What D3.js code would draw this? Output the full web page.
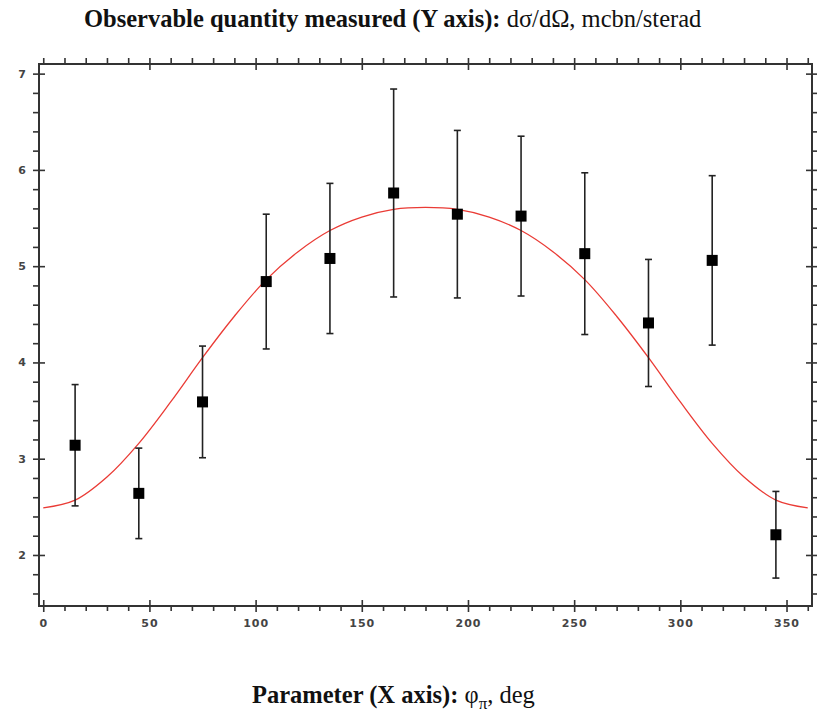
<!DOCTYPE html>
<html>
<head>
<meta charset="utf-8">
<script src="https://cdn.jsdelivr.net/npm/d3@7"></script>
<style>
  body { margin: 0; background: #fff; }
  .tick text { font-family: "DejaVu Sans", sans-serif; font-size: 11px; font-weight: bold; fill: #444; letter-spacing: 1px; }
  .tick line { stroke: #333; stroke-width: 1.6; }
</style>
</head>
<body>
<div id="chart"></div>
<script>
// measured points (phi in deg, dsigma/dOmega in mcbn/sterad)
var phiValues = [15, 45, 75, 105, 135, 165, 195, 225, 255, 285, 315, 345];
var sigmaValues = [3.14, 2.64, 3.59, 4.84, 5.08, 5.76, 5.54, 5.52, 5.13, 4.41, 5.06, 2.21];
var sigmaErrors = [0.63, 0.47, 0.58, 0.70, 0.78, 1.08, 0.87, 0.83, 0.84, 0.66, 0.88, 0.45];

// fitted curve, every 15 deg
var fitPhi = [0, 15, 30, 45, 60, 75, 90, 105, 120, 135, 150, 165, 180,
              195, 210, 225, 240, 255, 270, 285, 300, 315, 330, 345, 360];
var fitValues = [2.49, 2.57, 2.81, 3.16, 3.59, 4.05, 4.48, 4.86, 5.15, 5.37, 5.51, 5.59, 5.61,
                 5.59, 5.51, 5.37, 5.15, 4.86, 4.48, 4.05, 3.59, 3.16, 2.81, 2.57, 2.49];

var xMajor = [0, 50, 100, 150, 200, 250, 300, 350];
var yMajor = [2, 3, 4, 5, 6, 7];

var width = 817, height = 712;
var plotLeft = 39, plotRight = 812, plotTop = 64, plotBottom = 606;

var svg = d3.select("#chart").append("svg")
    .attr("width", width)
    .attr("height", height);

var x = d3.scaleLinear().domain([-2, 362]).range([plotLeft, plotRight]);
var y = d3.scaleLinear().domain([1.47, 7.1]).range([plotBottom, plotTop]);

var xMinor = d3.range(0, 361, 10).filter(function (d) { return d % 50 !== 0; });
var yMinor = d3.range(16, 71, 2).map(function (d) { return d / 10; })
    .filter(function (d) { return Math.abs(d - Math.round(d)) > 0.01; });

// titles
var title = svg.append("text")
    .attr("x", 84)
    .attr("y", 27)
    .style("font-family", "'Liberation Serif', 'Times New Roman', serif")
    .style("font-size", "24.5px")
    .attr("fill", "#111");
title.append("tspan").style("font-weight", "bold").text("Observable quantity measured (Y axis): ");
title.append("tspan").text("d\u03c3/d\u03a9, mcbn/sterad");

var xTitle = svg.append("text")
    .attr("x", 252)
    .attr("y", 703)
    .style("font-family", "'Liberation Serif', 'Times New Roman', serif")
    .style("font-size", "24.5px")
    .attr("fill", "#111");
xTitle.append("tspan").style("font-weight", "bold").text("Parameter (X axis): ");
xTitle.append("tspan").text("\u03c6");
xTitle.append("tspan").attr("dy", 6).style("font-size", "17px").text("\u03c0");
xTitle.append("tspan").attr("dy", -6).text(", deg");

// axes: outward ticks (major + minor), inward ticks for majors
function drawAxis(axis, tx, ty) {
    var g = svg.append("g").attr("transform", "translate(" + tx + "," + ty + ")").call(axis);
    g.select(".domain").remove();
    return g;
}

drawAxis(d3.axisBottom(x).tickValues(xMajor).tickSize(6).tickPadding(7).tickFormat(d3.format("d")), 0, plotBottom);
drawAxis(d3.axisBottom(x).tickValues(xMinor).tickSize(5).tickFormat(""), 0, plotBottom);
drawAxis(d3.axisTop(x).tickValues(xMajor).tickSize(6).tickFormat(""), 0, plotBottom);

drawAxis(d3.axisTop(x).tickValues(xMajor.concat(xMinor)).tickSize(6).tickFormat(""), 0, plotTop);
drawAxis(d3.axisBottom(x).tickValues(xMajor.filter(function (d) { return d > 0; })).tickSize(6).tickFormat(""), 0, plotTop);

var yAxisG = drawAxis(d3.axisLeft(y).tickValues(yMajor).tickSize(6).tickPadding(11).tickFormat(d3.format("d")), plotLeft, 0);
yAxisG.selectAll("text").attr("text-anchor", "middle").attr("dx", 0.5);
drawAxis(d3.axisLeft(y).tickValues(yMinor).tickSize(6).tickFormat(""), plotLeft, 0);
drawAxis(d3.axisRight(y).tickValues(yMajor).tickSize(6).tickFormat(""), plotLeft, 0);

drawAxis(d3.axisRight(y).tickValues(yMajor.concat(yMinor)).tickSize(5).tickFormat(""), plotRight, 0);
drawAxis(d3.axisLeft(y).tickValues(yMajor).tickSize(6).tickFormat(""), plotRight, 0);

// frame
svg.append("rect")
    .attr("x", plotLeft)
    .attr("y", plotTop)
    .attr("width", plotRight - plotLeft)
    .attr("height", plotBottom - plotTop)
    .attr("fill", "none")
    .attr("stroke", "#333")
    .attr("stroke-width", 2);

svg.append("clipPath").attr("id", "plotClip")
    .append("rect")
    .attr("x", plotLeft).attr("y", plotTop)
    .attr("width", plotRight - plotLeft).attr("height", plotBottom - plotTop);

var plot = svg.append("g").attr("clip-path", "url(#plotClip)");

// fitted curve
var fitData = fitPhi.map(function (d, i) { return [d, fitValues[i]]; });
var line = d3.line()
    .x(function (d) { return x(d[0]); })
    .y(function (d) { return y(d[1]); })
    .curve(d3.curveCatmullRom);

plot.append("path")
    .datum(fitData)
    .attr("d", line)
    .attr("fill", "none")
    .attr("stroke", "#ea3b35")
    .attr("stroke-width", 1.3);

// error bars + squares
var points = phiValues.map(function (d, i) {
    return { phi: d, value: sigmaValues[i], err: sigmaErrors[i] };
});

var pts = plot.selectAll(".pt")
    .data(points)
    .enter()
    .append("g")
    .attr("class", "pt");

pts.append("line")
    .attr("x1", function (d) { return x(d.phi); })
    .attr("x2", function (d) { return x(d.phi); })
    .attr("y1", function (d) { return y(d.value - d.err); })
    .attr("y2", function (d) { return y(d.value + d.err); })
    .attr("stroke", "#222")
    .attr("stroke-width", 1.6);

[-1, 1].forEach(function (s) {
    pts.append("line")
        .attr("x1", function (d) { return x(d.phi) - 3.5; })
        .attr("x2", function (d) { return x(d.phi) + 3.5; })
        .attr("y1", function (d) { return y(d.value + s * d.err); })
        .attr("y2", function (d) { return y(d.value + s * d.err); })
        .attr("stroke", "#222")
        .attr("stroke-width", 1.6);
});

pts.append("rect")
    .attr("x", function (d) { return x(d.phi) - 5.5; })
    .attr("y", function (d) { return y(d.value) - 5.5; })
    .attr("width", 11)
    .attr("height", 11)
    .attr("fill", "#000");
</script>
</body>
</html>
